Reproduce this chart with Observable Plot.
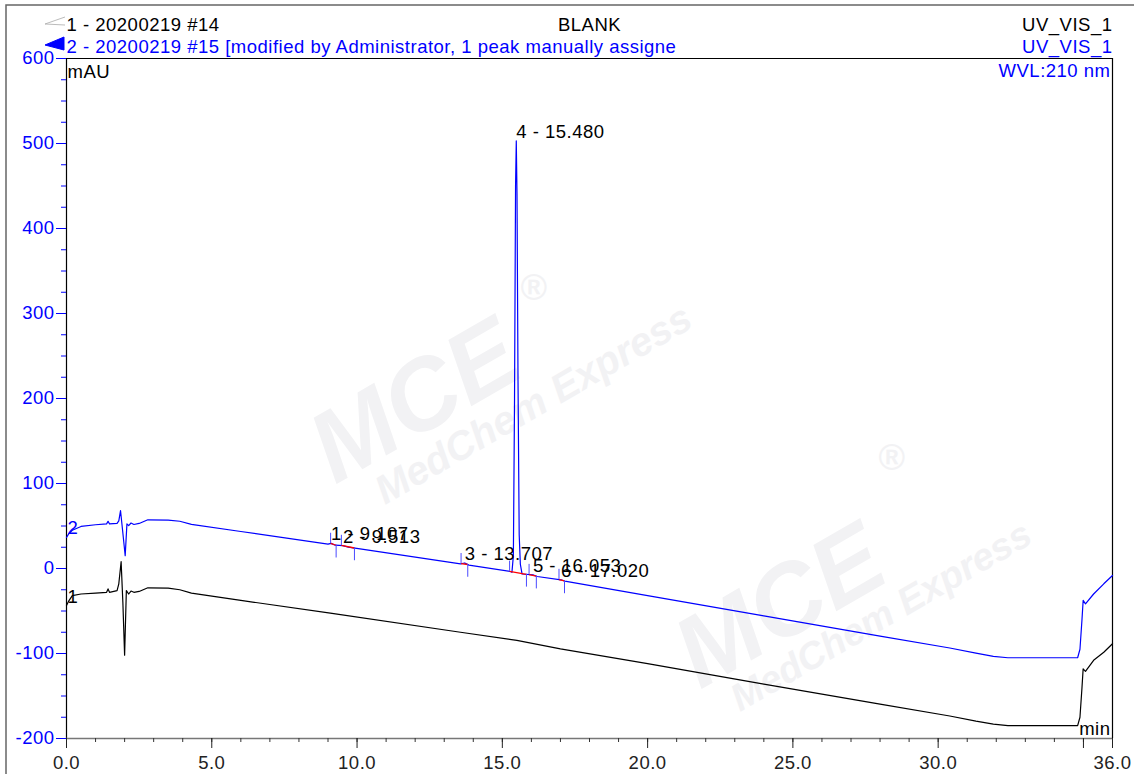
<!DOCTYPE html>
<html><head><meta charset="utf-8">
<script src="https://cdn.jsdelivr.net/npm/d3@7"></script>
<script src="https://cdn.jsdelivr.net/npm/@observablehq/plot@0.6"></script>
<style>html,body{margin:0;padding:0;background:#fff;overflow:hidden}#chart{width:1134px;height:774px}</style>
</head><body><div id="chart"></div>
<script>
// Trace 1 (black) — retention time (min) and signal (mAU)
const time1 = [0, 0.08, 0.2, 0.5, 1.0, 1.38, 1.43, 1.48, 1.74, 1.80, 1.88, 1.94, 2.00, 2.06, 2.14, 2.22, 2.32, 2.5, 2.8, 3.5, 3.9, 4.3, 6.0, 9.08, 13.56, 15.5, 17.0, 20.0, 24.0, 28.0, 30.4, 31.3, 31.9, 32.4, 34.8, 34.88, 34.95, 34.99, 35.07, 35.35, 35.7, 36.0];
const signal1 = [-43.5, -38, -32, -30, -29, -28, -24, -28, -26, -18, 8, -40, -102, -26, -30, -26.5, -28, -27, -22.7, -23, -25, -29, -37.5, -52.5, -75, -84.5, -94.5, -112, -136, -159.5, -173.5, -179.5, -183, -184.8, -184.8, -175, -140, -118, -121, -108, -98.5, -88.5];

// Trace 2 (blue)
const time2 = [0, 0.08, 0.2, 0.5, 1.0, 1.38, 1.43, 1.48, 1.74, 1.80, 1.86, 1.93, 2.02, 2.08, 2.14, 2.22, 2.32, 2.5, 2.8, 3.5, 3.9, 4.3, 6.0, 9.0, 9.107, 9.25, 9.513, 9.7, 13.56, 13.707, 13.85, 15.28, 15.33, 15.38, 15.42, 15.455, 15.48, 15.505, 15.54, 15.58, 15.62, 15.68, 16.053, 16.2, 17.02, 17.15, 20.0, 24.0, 28.0, 30.4, 31.3, 31.9, 32.4, 34.8, 34.88, 34.95, 34.99, 35.07, 35.35, 35.7, 36.0];
const signal2 = [36.5, 41, 45, 49.5, 51.5, 52.5, 55.5, 52.5, 53, 56, 68, 45, 15, 52.5, 50.5, 53.5, 51.8, 53, 57.3, 57, 55.6, 52, 43.5, 28.6, 29.6, 27.4, 27, 25.2, 5.5, 6.5, 4.0, -3.5, -4.5, 15, 200, 450, 503, 440, 220, 40, 5, -6.5, -7.5, -9.4, -13.3, -14.8, -32, -55.8, -79.5, -93.5, -99.5, -103.3, -105, -105, -95, -60, -37.6, -41.6, -30, -18, -8.2];

// Integrated peaks on trace 2
const peakNumber = [1, 2, 3, 4, 5, 6];
const peakTime = [9.107, 9.513, 13.707, 15.480, 16.053, 17.020];
const peakStart = [9.09, 9.46, 13.58, 15.25, 15.92, 16.95];
const peakEnd = [9.28, 9.91, 13.81, 15.83, 16.17, 17.14];

// Axis ticks
const xMajorTicks = [0, 5, 10, 15, 20, 25, 30, 35, 36];
const xTickLabels = [0, 5, 10, 15, 20, 25, 30, 36];
const xMinorTicks = d3.range(0, 37, 1);
const yMajorTicks = d3.range(-200, 601, 100);
const yMinorTicks = d3.range(-200, 601, 25);

const trace1 = time1.map((t, i) => ({t, v: signal1[i]}));
const trace2 = time2.map((t, i) => ({t, v: signal2[i]}));
function at2(t) {
  for (let i = 0; i < time2.length - 1; i++) {
    if (t >= time2[i] && t <= time2[i + 1]) {
      const f = (t - time2[i]) / (time2[i + 1] - time2[i]);
      return signal2[i] + f * (signal2[i + 1] - signal2[i]);
    }
  }
  return signal2[signal2.length - 1];
}
const peaks = peakNumber.map((n, i) => ({n, rt: peakTime[i], start: peakStart[i], end: peakEnd[i]}));

const BLUE = "#0000ff";
const FONT = "'Liberation Sans', Arial, Helvetica, sans-serif";

const chart = Plot.plot({
  width: 1134, height: 774,
  marginLeft: 66, marginRight: 22, marginTop: 58, marginBottom: 36,
  style: {fontFamily: FONT, fontSize: "18.5px", letterSpacing: "0.5px", background: "white", color: "black", overflow: "visible"},
  x: {domain: [0, 36]},
  y: {domain: [-200, 600]},
  marks: [
    // frame
    Plot.ruleY([600], {stroke: "black", strokeWidth: 1.2}),
    Plot.ruleX([36], {stroke: "black", strokeWidth: 1.2}),
    Plot.ruleX([0], {stroke: "black", strokeWidth: 1.2}),
    Plot.ruleY([-200], {stroke: "#777", strokeWidth: 1.5}),
    // axes
    Plot.axisY(yMinorTicks, {tickSize: 5, tickFormat: () => "", label: null, color: BLUE}),
    Plot.axisY(yMajorTicks, {tickSize: 10, tickPadding: 2, tickFormat: d => String(d), label: null, color: BLUE}),
    Plot.axisX(xMinorTicks, {tickSize: 4, tickFormat: () => "", label: null, color: "#333"}),
    Plot.axisX(xMajorTicks, {tickSize: 10, tickPadding: 7, tickFormat: d => xTickLabels.includes(d) ? d.toFixed(1) : "", label: null, color: "#222"}),
    // traces
    Plot.line(trace1, {x: "t", y: "v", stroke: "black", strokeWidth: 1.2}),
    Plot.line(trace2, {x: "t", y: "v", stroke: BLUE, strokeWidth: 1.2}),
    // peak baselines and delimiters
    Plot.link(peaks, {x1: "start", x2: "end", y1: d => at2(d.start), y2: d => at2(d.end), stroke: "#ff0000", strokeWidth: 1.3}),
    Plot.ruleX(peaks, {x: "start", y1: d => at2(d.start), y2: d => at2(d.start) + 12, stroke: "#4a4aff", strokeWidth: 1}),
    Plot.ruleX(peaks, {x: "end", y1: d => at2(d.end), y2: d => at2(d.end) - 15, stroke: "#4a4aff", strokeWidth: 1}),
    Plot.text(peaks, {x: "rt", y: d => at2(d.rt), text: d => `${d.n} - ${d.rt.toFixed(3)}`, textAnchor: "start", lineAnchor: "bottom", dy: -3, fill: "black"}),
    // trace number labels
    Plot.text([trace1[0]], {x: "t", y: "v", text: () => "1", textAnchor: "start", lineAnchor: "bottom", dx: 1, dy: -2, fill: "black"}),
    Plot.text([trace2[0]], {x: "t", y: "v", text: () => "2", textAnchor: "start", lineAnchor: "bottom", dx: 1, dy: -3, fill: BLUE}),
    // header & units
    Plot.text(["1 - 20200219 #14"], {frameAnchor: "top-left", textAnchor: "start", lineAnchor: "bottom", dy: -28, fill: "black"}),
    Plot.text(["2 - 20200219 #15 [modified by Administrator, 1 peak manually assigne"], {frameAnchor: "top-left", textAnchor: "start", lineAnchor: "bottom", dy: -6, fill: BLUE}),
    Plot.text(["BLANK"], {frameAnchor: "top", textAnchor: "middle", lineAnchor: "bottom", dy: -28, fill: "black"}),
    Plot.text(["UV_VIS_1"], {frameAnchor: "top-right", textAnchor: "end", lineAnchor: "bottom", dy: -28, fill: "black"}),
    Plot.text(["UV_VIS_1"], {frameAnchor: "top-right", textAnchor: "end", lineAnchor: "bottom", dy: -6, fill: BLUE}),
    Plot.text(["WVL:210 nm"], {frameAnchor: "top-right", textAnchor: "end", lineAnchor: "bottom", dx: -2, dy: 18, fill: BLUE}),
    Plot.text(["mAU"], {frameAnchor: "top-left", textAnchor: "start", lineAnchor: "bottom", dx: 1, dy: 19, fill: "black"}),
    Plot.text(["min"], {frameAnchor: "bottom-right", textAnchor: "end", lineAnchor: "bottom", dx: -2, dy: -4, fill: "black"})
  ]
});
document.getElementById("chart").appendChild(chart);

// decorations: outer border, legend icons, faint watermark
const svg = d3.select(chart);
const wm = svg.insert("g", "g").attr("fill", "#f2f2f4").attr("font-family", FONT).attr("font-weight", "bold").attr("font-style", "italic").attr("letter-spacing", "0").attr("text-anchor", "start");
[
  {s: "MCE", x: 335, y: 485, size: 100, r: -30},
  {s: "MedChem Express", x: 385, y: 505, size: 40, r: -30},
  {s: "MCE", x: 700, y: 690, size: 100, r: -30},
  {s: "MedChem Express", x: 740, y: 712, size: 38, r: -30},
  {s: "®", x: 520, y: 300, size: 36, r: 0},
  {s: "®", x: 878, y: 470, size: 36, r: 0}
].forEach(w => {
  wm.append("text").attr("transform", `translate(${w.x},${w.y}) rotate(${w.r})`).attr("font-size", w.size).text(w.s);
});
svg.append("path").attr("d", "M6,774 L6,5 L1134,5").attr("fill", "none").attr("stroke", "#666").attr("stroke-width", 1.5);
svg.append("path").attr("d", "M65,17 L45,24 L65,25").attr("fill", "none").attr("stroke", "#aaa").attr("stroke-width", 0.8);
svg.append("path").attr("d", "M45,45 L64,37 L64,50 Z").attr("fill", BLUE).attr("stroke", BLUE).attr("stroke-width", 1);
</script>
</body></html>
